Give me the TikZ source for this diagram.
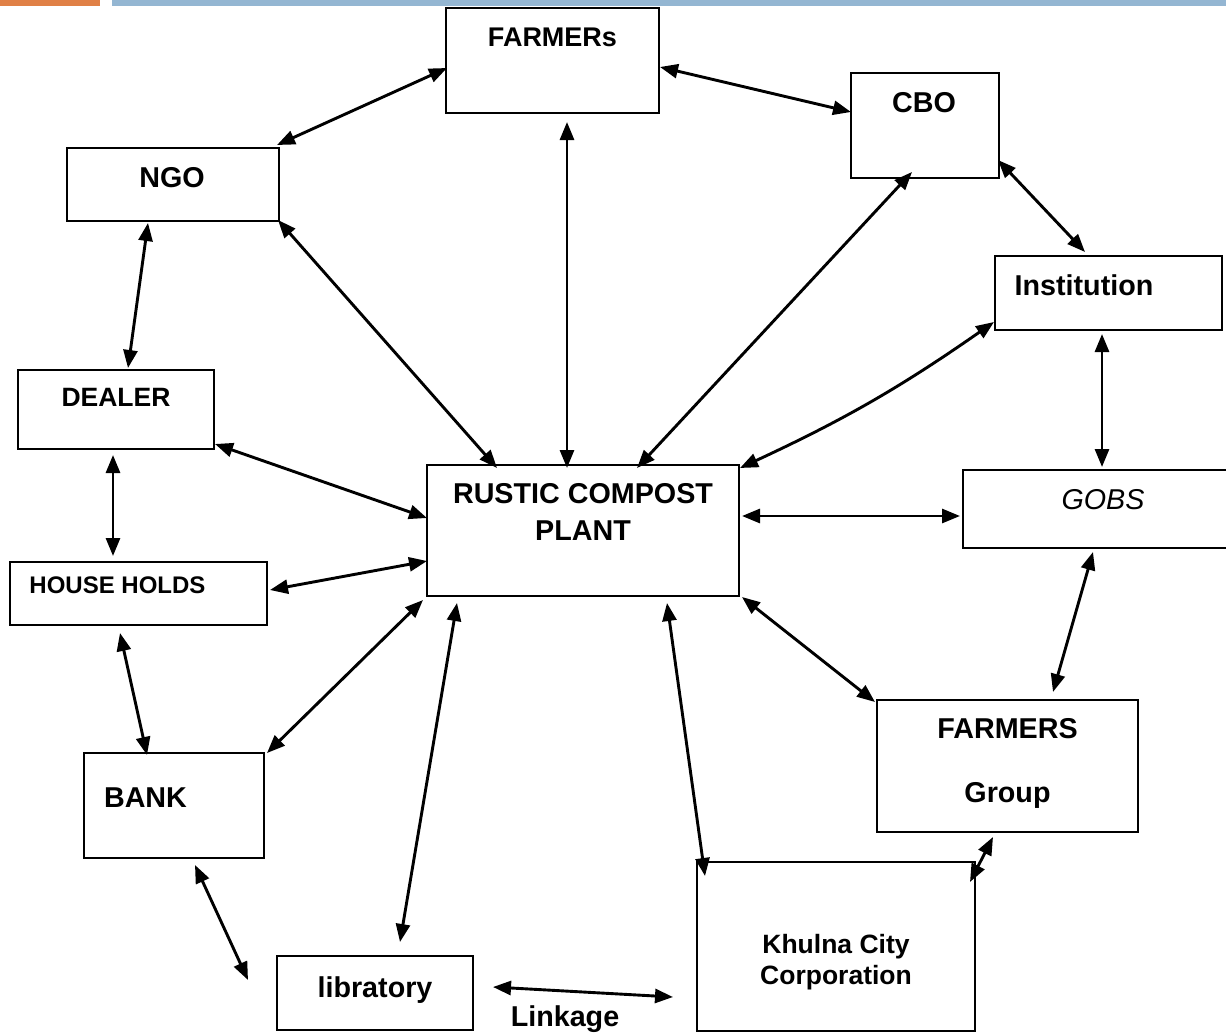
\documentclass[tikz,border=0pt]{standalone}
\usepackage{fontspec}
\setmainfont{Liberation Sans}
\usetikzlibrary{arrows.meta, calc}

\definecolor{barorange}{RGB}{224,128,70}
\definecolor{barblue}{RGB}{148,182,210}

\newcommand{\boxfont}{\fontsize{28.7}{37}\selectfont\bfseries}
\newcommand{\midfont}{\fontsize{26.5}{31}\selectfont\bfseries}
\newcommand{\smallfont}{\fontsize{24}{29}\selectfont\bfseries}

\tikzset{
  box/.style={draw, line width=2.3pt, inner sep=0pt, outer sep=0pt},
  sz/.style 2 args={minimum width=#1pt, minimum height=#2pt},
  lbl/.style={anchor=center, inner sep=0pt, text depth=0pt, align=center, font=\boxfont},
  link/.style={{Triangle[length=18pt,width=14pt]}-{Triangle[length=18pt,width=14pt]}, line width=2.9pt},
}

\begin{document}
\begin{tikzpicture}[x=1pt, y=-1pt]
  \useasboundingbox (0,0) rectangle (1226,1033);
  % header bars
  \fill[barorange] (0,0) rectangle (100,6);
  \fill[barblue] (112,0) rectangle (1226,6);

  % boxes
  \node[box, sz={213}{105}, label={[lbl, font=\fontsize{27}{32}\selectfont\bfseries, yshift=-29pt]north:FARMERs}] (farmers) at (552.5,60.5) {};
  \node[box, sz={148}{105}, label={[lbl, xshift=-1pt, yshift=-29pt]north:CBO}] (cbo) at (925,125.5) {};
  \node[box, sz={212}{73}, label={[lbl, xshift=-1pt, yshift=-29pt]north:NGO}] (ngo) at (173,184.5) {};
  \node[box, sz={227}{74}, label={[lbl, xshift=-24.5pt, yshift=-29pt]north:Institution}] (inst) at (1108.5,293) {};
  \node[box, sz={196}{79}, label={[lbl, font=\midfont, yshift=-27pt]north:DEALER}] (dealer) at (116,409.5) {};
  \node[box, sz={312}{131}, label={[lbl, yshift=-46.5pt]north:RUSTIC COMPOST\\PLANT}] (rustic) at (583,530.5) {};
  \node[box, sz={267}{78}, label={[lbl, font=\fontsize{28.7}{34}\selectfont\itshape, xshift=6.5pt, yshift=-29pt]north:GOBS}] (gobs) at (1096.5,509) {};
  \node[box, sz={257}{63}, label={[lbl, font=\smallfont, xshift=-21pt, yshift=-23pt]north:HOUSE HOLDS}] (house) at (138.5,593.5) {};
  \node[box, sz={261}{132}, label={[lbl, yshift=-60pt]north:FARMERS\\[27pt]Group}] (fgroup) at (1007.5,766) {};
  \node[box, sz={180}{105}, label={[lbl, xshift=-28.5pt, yshift=-45pt]north:BANK}] (bank) at (174,805.5) {};
  \node[box, sz={278}{169}, label={[lbl, font=\midfont, yshift=-97.5pt]north:Khulna City\\Corporation}] (khulna) at (836,946.5) {};
  \node[box, sz={196}{74}, label={[lbl, yshift=-31pt]north:libratory}] (librat) at (375,993) {};
  \node[lbl] (linkage) at (565,1016.5) {Linkage};

  % links
  \draw[link] ($(farmers.west)+(1,7.5)$) -- ($(ngo.north east)+(-2,-3)$);
  \draw[link] ($(farmers.east)+(1,6.5)$) -- ($(cbo.west)+(0,-13.5)$);
  \draw[link] ($(farmers.south)+(14.5,9)$) -- ($(rustic.north)+(-16,3)$);
  \draw[link] ($(ngo.south east)+(-1,-1)$) -- ($(rustic.north west)+(70,3)$);
  \draw[link] ($(cbo.south)+(-13,-6)$) -- ($(rustic.north)+(54,3)$);
  \draw[link] ($(cbo.south east)+(-1,-18)$) -- ($(inst.north)+(-23.5,-4)$);
  \draw[link] ($(inst.west)+(-1,29)$) to[bend left=5] ($(rustic.north east)+(1,3)$);
  \draw[link] ($(inst.south)+(-6.5,4)$) -- ($(gobs.north)+(5.5,-3)$);
  \draw[link] ($(ngo.south)+(-25,2)$) -- ($(dealer.north)+(12,-2)$);
  \draw[link] ($(dealer.south east)+(1,-5)$) -- ($(rustic.west)+(0,-12.5)$);
  \draw[link] ($(dealer.south)+(-3,6)$) -- ($(house.north)+(-25.5,-6)$);
  \draw[link] ($(house.east)+(3,-3.5)$) -- ($(rustic.west)+(0,30.5)$);
  \draw[link] ($(rustic.east)+(3,-14.5)$) -- ($(gobs.west)+(-3,7)$);
  \draw[link] ($(house.south)+(-18.5,8)$) -- ($(bank.north)+(-27,2)$);
  \draw[link] ($(bank.north east)+(3,0)$) -- ($(rustic.south west)+(-4,4)$);
  \draw[link] ($(rustic.south west)+(30,7)$) -- ($(librat.north)+(25,-14)$);
  \draw[link] ($(rustic.south)+(84,7)$) -- ($(khulna.north west)+(8,14)$);
  \draw[link] ($(rustic.south east)+(3,1)$) -- ($(fgroup.north west)+(-2,2)$);
  \draw[link] ($(gobs.south)+(-3.5,4)$) -- ($(fgroup.north)+(45.5,-8)$);
  \draw[link] ($(fgroup.south)+(-14.5,5)$) -- ($(khulna.north east)+(-5,20)$);
  \draw[link] ($(bank.south)+(21,7)$) -- ($(librat.west)+(-29,-13)$);
  \draw[link] ($(librat.east)+(20,-6)$) -- ($(khulna.west)+(-24,50.5)$);
\end{tikzpicture}
\end{document}
